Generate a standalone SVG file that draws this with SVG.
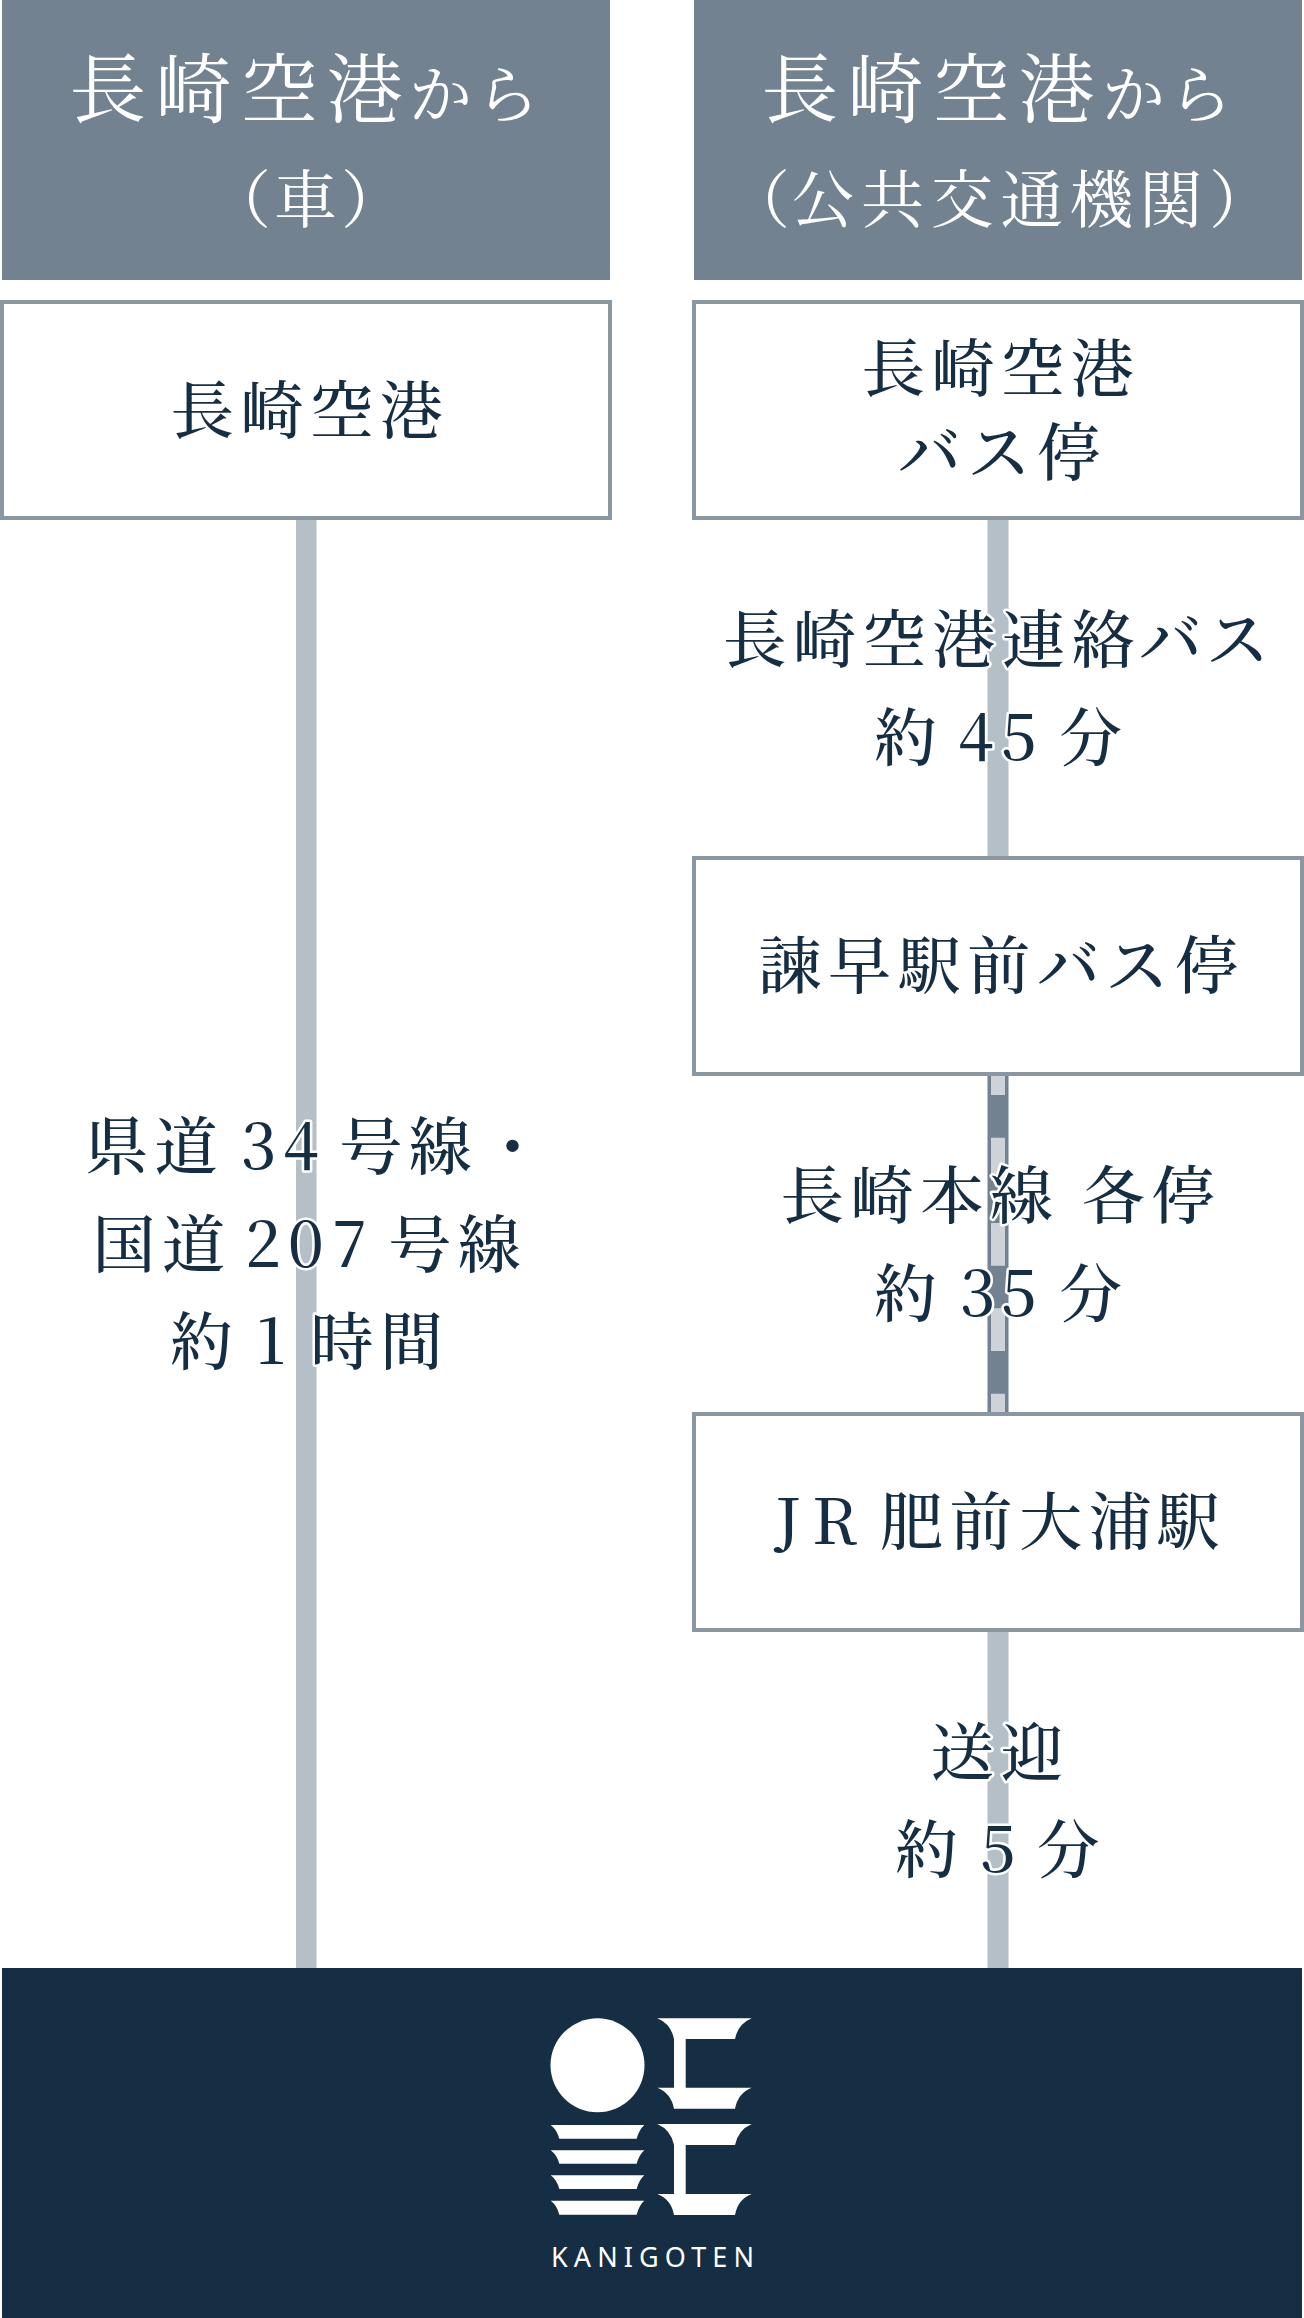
<svg xmlns="http://www.w3.org/2000/svg" width="1304" height="2318" viewBox="0 0 1304 2318">
<style>
text{font-family:"Noto Serif CJK JP","Noto Sans CJK JP",serif;font-size:63px;font-weight:500;fill:#152e44}
.head{fill:#728290}
.box{fill:#fff;stroke:#8a97a3;stroke-width:4}
.w{fill:#fff;font-weight:400}
.big{font-size:76px}
.lab{stroke:#fff;stroke-width:5;stroke-linejoin:round;paint-order:stroke}
.line{fill:#b5bfc8}
.logo{fill:#fff}
.brand{font-family:"Noto Sans",sans-serif;font-size:27px;font-weight:400;fill:#fff}
</style>
<rect width="1304" height="2318" fill="#fff"/>
<g id="connectors">
<rect class="line" x="296" y="518" width="20.5" height="1452"/>
<rect class="line" x="987.5" y="518" width="21" height="340"/>
<rect x="987.5" y="1074" width="21" height="340" fill="#728290"/>
<line x1="998" y1="1076" x2="998" y2="1412" stroke="#cdd3d9" stroke-width="14" stroke-dasharray="42.67" stroke-dashoffset="23.67"/>
<rect class="line" x="987.5" y="1630" width="21" height="340"/>
</g>
<g id="header-car">
<rect class="head" x="2" y="0" width="608" height="280"/>
<text class="w"><tspan class="big" y="117" x="70 155.6 241.2 326.8">長崎空港</tspan><tspan y="117" x="409 476">から</tspan></text>
<text class="w" y="222" x="208 274 341">（車）</text>
</g>
<g id="header-public">
<rect class="head" x="694" y="0" width="608" height="280"/>
<text class="w"><tspan class="big" y="117" x="762 847.6 933.2 1018.8">長崎空港</tspan><tspan y="117" x="1102 1169">から</tspan></text>
<text class="w" y="222" x="727 791.5 861.1 930.7 1000.3 1069.9 1139.5 1209">（公共交通機関）</text>
</g>
<g id="node-airport">
<rect class="box" x="2" y="302" width="608" height="216"/>
<text y="433" x="171 240.6 310.2 379.8">長崎空港</text>
</g>
<g id="node-airport-bus">
<rect class="box" x="694" y="302" width="608" height="216"/>
<text y="391" x="862 931.6 1001.2 1070.8">長崎空港</text>
<text y="475" x="898 967.6 1037.2">バス停</text>
</g>
<g id="node-isahaya">
<rect class="box" x="694" y="858" width="608" height="216"/>
<text y="988" x="758.5 828.1 897.7 967.3 1036.9 1105.5 1175.1">諫早駅前バス停</text>
</g>
<g id="node-hizen">
<rect class="box" x="694" y="1414" width="608" height="216"/>
<text y="1544" x="775 812 860 880 949.6 1019.2 1088.8 1156.4">JR 肥前大浦駅</text>
</g>
<g id="label-road">
<text class="lab" y="1169" x="85 154.6 230 241 283 330 339.5 408.6 481">県道 34 号線・</text>
<text class="lab" y="1267" x="92.5 162.1 235 245 288 332 380 388.5 457.6">国道 207 号線</text>
<text class="lab" y="1364" x="170 240 256 300 310.5 380">約 1 時間</text>
</g>
<g id="label-bus">
<text class="lab" y="662" x="723.5 793.1 862.7 932.3 1001.9 1071.5 1139 1206">長崎空港連絡バス</text>
<text class="lab" y="760" x="874 945 958 1001 1045 1059">約 45 分</text>
</g>
<g id="label-train">
<text class="lab" y="1218" x="781 850.6 920.2 989.8 1065 1082 1151.6">長崎本線 各停</text>
<text class="lab" y="1316" x="874 945 960 1001 1045 1059">約 35 分</text>
</g>
<g id="label-pickup">
<text class="lab" y="1775" x="931 1000.6">送迎</text>
<text class="lab" y="1872" x="895 965 980 1025 1036.5">約 5 分</text>
</g>
<g id="kanigoten">
<rect x="2" y="1968" width="1300" height="350" fill="#152e44"/>
<circle class="logo" cx="597.5" cy="2065.3" r="47"/>
<path class="logo" d="M657.3 2018.3H751.7Q738 2024 735 2039H685.7V2087.7H751.7Q738 2093 735 2108.7H674Q671 2093 657.3 2087.7H674V2039Q671 2024 657.3 2018.3Z"/>
<path class="logo" d="M657.3 2124H751.7Q738 2130 735 2145H685.7V2194H751.7Q738 2199 735 2215H674Q671 2199 657.3 2194H674V2145Q671 2130 657.3 2124Z"/>
<path class="logo" d="M550.7 2125H644.3Q639 2130 636.7 2138.7H559.3Q557 2130 550.7 2125Z"/>
<path class="logo" d="M550.7 2150.3H644.3Q639 2155 636.7 2163.7H559.3Q557 2155 550.7 2150.3Z"/>
<path class="logo" d="M550.7 2175.3H644.3Q639 2180 636.7 2189H559.3Q557 2180 550.7 2175.3Z"/>
<path class="logo" d="M550.7 2200.7H644.3Q639 2205 636.7 2214.7H559.3Q557 2205 550.7 2200.7Z"/>
<text class="brand" x="551" y="2266.7" textLength="203" lengthAdjust="spacing">KANIGOTEN</text>
</g>
</svg>
